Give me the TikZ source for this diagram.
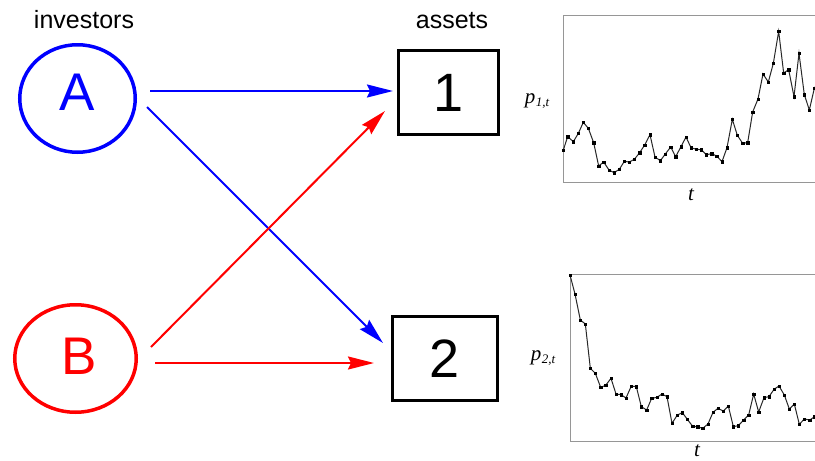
\documentclass[tikz,border=0pt]{standalone}
\usepackage{fontspec}
\setmainfont{Liberation Serif}
\setsansfont{Liberation Sans}
\usetikzlibrary{arrows.meta,shapes.geometric,plotmarks}
\definecolor{pblue}{RGB}{0,0,255}
\definecolor{pred}{RGB}{255,0,0}
\definecolor{framegray}{RGB}{150,150,150}
\definecolor{curvegray}{RGB}{40,40,40}
\tikzset{
  invest/.style={ellipse, draw, line width=3.5pt, inner sep=0pt},
  assetbox/.style={rectangle, draw=black, line width=3pt, inner sep=0pt,
     font=\sffamily\fontsize{54}{54}\selectfont},
  bigletter/.style={inner sep=0pt, font=\sffamily\fontsize{53}{53}\selectfont},
  header/.style={inner sep=0pt, anchor=base, font=\sffamily\fontsize{25}{25}\selectfont},
  flow/.style={line width=2pt, -{Stealth[length=26pt,width=13pt,inset=3pt]}},
  axlabel/.style={inner sep=0pt, font=\rmfamily\itshape\fontsize{21}{21}\selectfont},
  frame/.style={draw=framegray, line width=1pt},
  series/.style={draw=curvegray, line width=1pt, mark=square*, mark size=1.1pt,
     mark options={fill=black, draw=black, line width=0.2pt}},
}
\newcommand{\psub}[1]{p\kern0.5pt\raisebox{-3.5pt}{\fontsize{13}{13}\selectfont #1}}
\begin{document}
\begin{tikzpicture}[x=1pt,y=-1pt]
\useasboundingbox (0,0) rectangle (815,461);
\fill[white] (0,0) rectangle (815,461);

% headers
\node[header] (hinv) at (84,28) {investors};
\node[header] (hass) at (452,28) {assets};

% investors
\node[invest, draw=pblue, minimum width=115.5pt, minimum height=107.5pt] (A) at (77.5,98.5) {};
\node[bigletter, text=pblue] (Atxt) at (77,92.5) {A};
\node[invest, draw=pred, minimum width=121.5pt, minimum height=107.5pt] (B) at (75.5,358.5) {};
\node[bigletter, text=pred] (Btxt) at (79,356) {B};

% assets
\node[assetbox, minimum width=100pt, minimum height=84pt] (one) at (448.5,92.5) {1};
\node[assetbox, minimum width=105pt, minimum height=84pt] (two) at (445,358.5) {2};

% connector end points
\coordinate (As1) at (150,91);
\coordinate (Ae1) at (393,91);
\coordinate (As2) at (147,107);
\coordinate (Ae2) at (383,343);
\coordinate (Bs1) at (151,347);
\coordinate (Be1) at (385,111);
\coordinate (Bs2) at (155,363);
\coordinate (Be2) at (374,363);

\draw[flow, pblue] (As1) -- (Ae1);
\draw[flow, pblue] (As2) -- (Ae2);
\draw[flow, pred] (Bs1) -- (Be1);
\draw[flow, pred] (Bs2) -- (Be2);

% charts
\begin{scope}
\clip (0,0) rectangle (815,461);
\begin{scope}[shift={(515,0)}, x=0.33333pt, y=-0.33333pt]
\draw[frame] (960,45) -- (145,45) -- (145,547) -- (960,547);
\draw[series] plot coordinates {
(145,450) (158,410) (175,425) (190,400) (205,367) (220,385) (236,428) (251,498)
(266,486) (282,510) (297,518) (313,508) (328,484) (343,486) (358,478) (374,458)
(389,435) (405,404) (420,471) (436,482) (451,462) (467,441) (482,470) (498,440)
(513,411) (528,443) (544,448) (559,449) (574,464) (590,461) (605,468) (621,485)
(636,443) (652,358) (667,406) (683,430) (698,428) (713,336) (729,297) (744,222)
(760,246) (775,190) (791,94) (806,219) (821,209) (837,290) (852,160) (868,284)
(883,330) (898,265) (913,240)};
\end{scope}
\begin{scope}[shift={(515,260)}, x=0.33333pt, y=-0.33333pt]
\draw[frame] (960,42) -- (165,42) -- (165,543) -- (960,543);
\draw[series] plot coordinates {
(165,45) (180,102) (196,180) (211,192) (226,325) (241,340) (257,382) (272,376)
(288,355) (303,402) (318,404) (333,414) (349,378) (364,380) (379,440) (395,450)
(410,415) (426,412) (441,402) (456,410) (471,490) (487,465) (502,458) (517,478)
(533,499) (548,500) (563,505) (579,492) (594,457) (609,445) (625,453) (640,438)
(655,500) (670,497) (686,480) (701,465) (716,402) (731,456) (747,413) (762,410)
(777,388) (792,378) (808,405) (823,447) (838,432) (853,493) (868,477) (884,480)
(899,470) (914,465)};
\end{scope}
\end{scope}

% axis labels
\node[axlabel] (p1) at (537,101) {\psub{1,t}};
\node[axlabel] (t1) at (691,195) {t};
\node[axlabel] (p2) at (543,358) {\psub{2,t}};
\node[axlabel] (t2) at (697,451) {t};
\end{tikzpicture}
\end{document}
